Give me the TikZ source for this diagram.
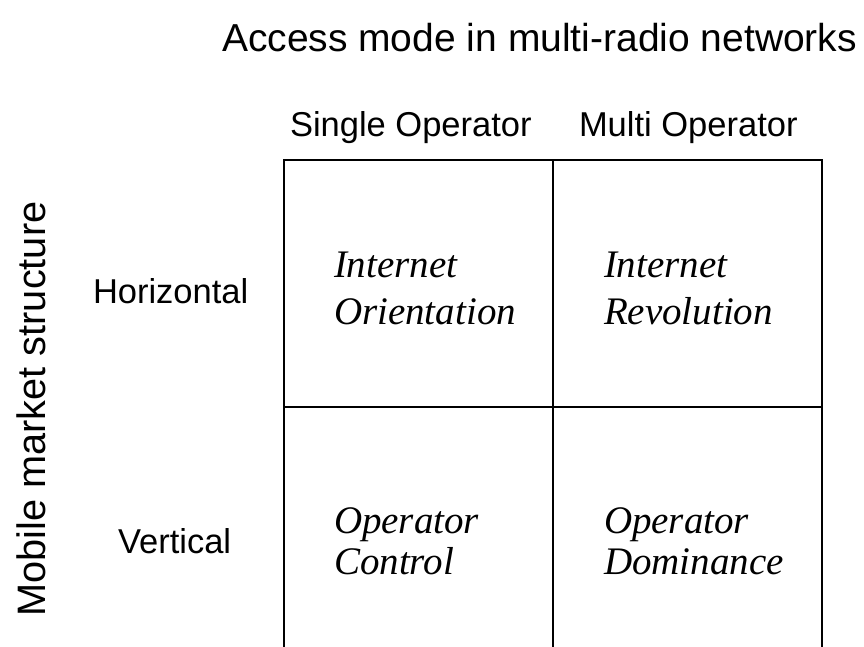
\documentclass[tikz,border=0pt]{standalone}
\usepackage{fontspec}
\setmainfont{Liberation Sans}
\newfontfamily\cellfont{Liberation Serif}
\usetikzlibrary{positioning}

\begin{document}
\begin{tikzpicture}[
    x=1pt, y=-1pt,
    every node/.style={inner sep=0pt, outer sep=0pt},
    title/.style={anchor=base west, font=\fontsize{39}{47}\selectfont},
    head/.style={anchor=base west, font=\fontsize{34.5}{40}\selectfont},
    cell/.style={anchor=north west, align=left,
      font=\cellfont\itshape\fontsize{39}{47}\selectfont},
    lowcell/.style={cell, font=\cellfont\itshape\fontsize{39}{41}\selectfont},
    gridline/.style={line width=1.7pt, black}
  ]
    \useasboundingbox (0,0) rectangle (864,647);

    % labels
    \node[title] (access) at (222,52) {Access mode in multi-radio networks};
    \node[head] (single) at (290,137) {Single Operator};
    \node[head] (multi) at (579,137) {Multi Operator};
    \node[head] (horiz) at (93,303) {Horizontal};
    \node[head] (vert) at (118,553) {Vertical};
    \node[anchor=base, rotate=90, font=\fontsize{39.7}{47}\selectfont]
      (market) at (45,409) {Mobile market structure};

    % grid
    \coordinate (tl) at (284,160);
    \coordinate (tm) at (553,160);
    \coordinate (tr) at (822,160);
    \coordinate (ml) at (284,407);
    \coordinate (mr) at (822,407);
    \coordinate (bl) at (284,648);
    \coordinate (bm) at (553,648);
    \coordinate (br) at (822,648);
    \draw[gridline] (bl) -- (tl) -- (tr) -- (br);
    \draw[gridline] (tm) -- (bm);
    \draw[gridline] (ml) -- (mr);

    % cells
    \node[cell] (orient) at (334,252) {Internet\\Orientation};
    \node[cell] (revol) at (604,252) {Internet\\Revolution};
    \node[lowcell] (control) at (334,508) {Operator\\Control};
    \node[lowcell] (domin) at (604,508) {Operator\\Dominance};
  \end{tikzpicture}
\end{document}
